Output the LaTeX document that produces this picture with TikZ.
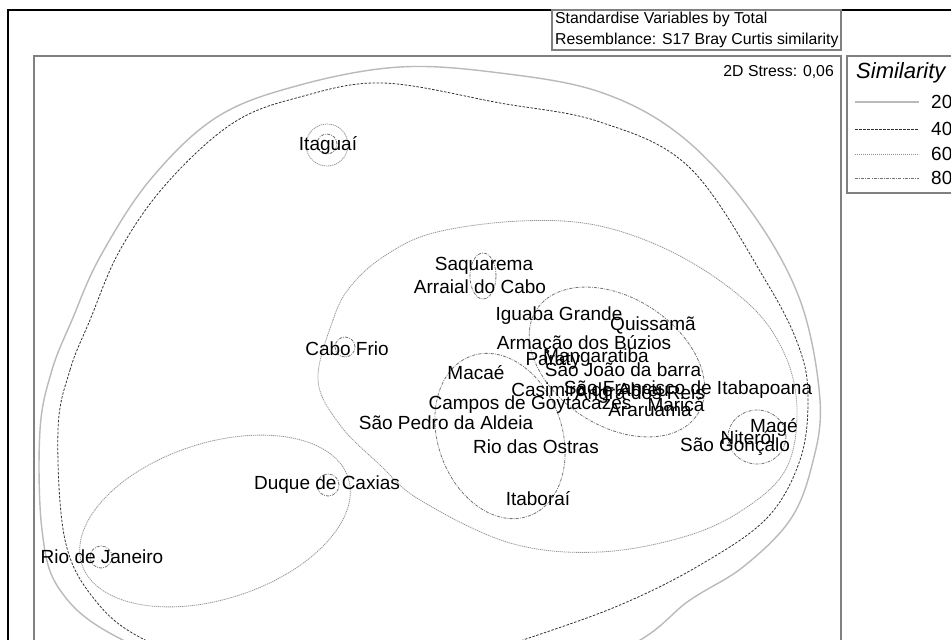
\documentclass[tikz,border=0pt]{standalone}
\usepackage{fontspec}
\setmainfont{Liberation Sans}
\begin{document}
\begin{tikzpicture}[x=1pt,y=-1pt,
  lbl/.style={font=\fontsize{19}{19}\selectfont, inner sep=0pt, anchor=center},
  hdr/.style={font=\fontsize{15.8}{16}\selectfont, inner sep=0pt},
  sim20/.style={draw=black!27, line width=1.4pt},
  sim40/.style={draw=black!80, line width=0.8pt, dash pattern=on 2.5pt off 1.5pt},
  sim60/.style={draw=black!42, line width=0.8pt, dash pattern=on 1.2pt off 0.8pt},
  sim80/.style={draw=black!55, line width=0.8pt, dash pattern=on 3pt off 1.2pt on 0.8pt off 1.2pt},
  graybox/.style={draw=black!50, line width=1.2pt}]
\useasboundingbox (0,0) rectangle (951,640);
\clip (0,0) rectangle (951,640);
\fill[white] (0,0) rectangle (951,640);
% frames
\draw[black, line width=2pt] (8,10) rectangle (1000,700);
\draw[graybox] (552,10) rectangle (841,50);
\draw[graybox] (34,56) rectangle (841,700);
\draw[graybox] (847,56) rectangle (1000,193);
% header texts
\node[hdr, anchor=west] (h1) at (555,19) {Standardise Variables by Total};
\node[hdr, anchor=west] (h2) at (555,40) {Resemblance: S17 Bray Curtis similarity};
\node[hdr, anchor=east] (stress) at (834,72) {2D Stress: 0,06};
% legend
\node[font=\fontsize{22}{22}\selectfont\itshape, inner sep=0pt, anchor=west] (simt) at (856,73) {Similarity};
\coordinate (l1a) at (855,102); \coordinate (l1b) at (919,102);
\coordinate (l2a) at (855,129); \coordinate (l2b) at (919,129);
\coordinate (l3a) at (855,154); \coordinate (l3b) at (919,154);
\coordinate (l4a) at (855,178); \coordinate (l4b) at (919,178);
\draw[sim20] (l1a) -- (l1b);
\draw[sim40] (l2a) -- (l2b);
\draw[sim60] (l3a) -- (l3b);
\draw[sim80] (l4a) -- (l4b);
\node[lbl, anchor=west] (n20) at (931,102) {20};
\node[lbl, anchor=west] (n40) at (931,129) {40};
\node[lbl, anchor=west] (n60) at (931,154) {60};
\node[lbl, anchor=west] (n80) at (931,178) {80};
% outer contour 20
\draw[sim20] plot[smooth cycle, tension=0.6] coordinates {
 (40,430) (52,370) (72,320) (100,257) (150,180) (217,117) (300,85) (400,67)
 (500,73) (600,92) (680,135) (750,210) (800,300) (820,400) (812,465) (790,520)
 (743,567) (690,600) (620,650) (450,700) (250,690) (117,637) (60,590) (42,530)};
% contour 40
\draw[sim40] plot[smooth cycle, tension=0.6] coordinates {
 (58,430) (70,370) (90,320) (120,250) (167,183) (233,123) (300,97) (383,83)
 (500,103) (600,122) (690,168) (767,283) (800,350) (808,400) (800,460) (767,518)
 (700,565) (620,605) (523,640) (400,680) (250,680) (145,640) (95,600) (65,540)};
% contour 60 big central
\draw[sim60] plot[smooth cycle, tension=0.6] coordinates {
 (318,380) (333,320) (350,287) (383,257) (433,233) (520,221) (600,226) (680,256)
 (750,305) (785,355) (797,410) (787,467) (750,505) (690,535) (600,552) (510,543)
 (420,500) (380,465) (340,425)};
% contour 60 Duque/Rio
\draw[sim60, rotate around={18:(215,521)}] (215,521) ellipse [x radius=140pt, y radius=78pt];
% Itaguai circles
\draw[sim60] (327,145) circle [radius=21pt];
\draw[sim80] (327,144) circle [radius=10pt];
% 80 contours
\draw[sim80] (483,276) ellipse [x radius=13pt, y radius=23pt];
\draw[sim80] (345,347) circle [radius=10pt];
\draw[sim80] (328,485) circle [radius=11pt];
\draw[sim80] (101,557) circle [radius=11pt];
\draw[sim80] (757,437) ellipse [x radius=29pt, y radius=27pt];
\draw[sim80, rotate around={20:(500,436)}] (500,436) ellipse [x radius=62pt, y radius=85pt];
\draw[sim80, rotate around={-33:(617,362)}] (617,362) ellipse [x radius=96pt, y radius=64pt];
% labels
\node[lbl] (itaguai) at (328,145) {Itaguaí};
\node[lbl] (saquarema) at (484,266) {Saquarema};
\node[lbl] (arraial) at (480,287) {Arraial do Cabo};
\node[lbl] (iguaba) at (559,316) {Iguaba Grande};
\node[lbl] (quissama) at (653,325) {Quissamã};
\node[lbl] (armacao) at (584,345) {Armação dos Búzios};
\node[lbl] (paraty) at (553,361) {Paraty};
\node[lbl] (mangaratiba) at (596,358) {Mangaratiba};
\node[lbl] (saojoao) at (623,370) {São João da barra};
\node[lbl] (macae) at (476,373) {Macaé};
\node[lbl] (cabofrio) at (347,349) {Cabo Frio};
\node[lbl] (casimiro) at (590,390) {Casimiro de Abreu};
\node[lbl] (angra) at (640,395) {Angra dos Reis};
\node[lbl] (saofrancisco) at (688,390) {São Francisco de Itabapoana};
\node[lbl] (campos) at (530,405) {Campos de Goytacazes};
\node[lbl] (marica) at (676,405) {Maricá};
\node[lbl] (araruama) at (650,410) {Araruama};
\node[lbl] (saopedro) at (446,423) {São Pedro da Aldeia};
\node[lbl] (riodasostras) at (536,447) {Rio das Ostras};
\node[lbl] (itaborai) at (538,499) {Itaboraí};
\node[lbl] (mage) at (774,427) {Magé};
\node[lbl] (niteroi) at (748,438) {Niterói};
\node[lbl] (saogoncalo) at (735,447) {São Gonçalo};
\node[lbl] (duque) at (327,485) {Duque de Caxias};
\node[lbl] (rio) at (102,557) {Rio de Janeiro};
\end{tikzpicture}
\end{document}
